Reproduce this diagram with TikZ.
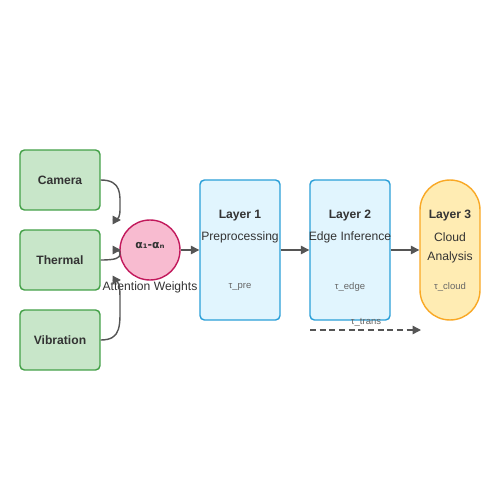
\documentclass[tikz,border=0pt]{standalone}
\usepackage{fontspec}
\setmainfont{Liberation Sans}
\newfontfamily\symfont{DejaVu Sans}
\usetikzlibrary{arrows.meta}
\definecolor{gfill}{HTML}{C8E6C9}
\definecolor{gline}{HTML}{43A047}
\definecolor{pfill}{HTML}{F8BBD0}
\definecolor{pline}{HTML}{C2185B}
\definecolor{bfill}{HTML}{E1F5FE}
\definecolor{bline}{HTML}{2A9FD8}
\definecolor{yfill}{HTML}{FFECB3}
\definecolor{yline}{HTML}{F9A825}
\definecolor{txt}{HTML}{333333}
\definecolor{sub}{HTML}{666666}
\definecolor{arr}{HTML}{555555}
\begin{document}
\begin{tikzpicture}[x=0.02cm,y=-0.02cm,
  sensor/.style={draw=gline,fill=gfill,line width=0.8pt,rounded corners=2.5pt,minimum width=1.6cm,minimum height=1.2cm,inner sep=0pt,font=\fontsize{6.9}{8}\selectfont\bfseries,text=txt},
  layerbox/.style={draw=bline,fill=bfill,line width=0.8pt,rounded corners=2.5pt,minimum width=1.6cm,minimum height=2.8cm,inner sep=0pt},
  cloudbox/.style={draw=yline,fill=yfill,line width=0.8pt,rounded corners=0.6cm,minimum width=1.2cm,minimum height=2.8cm,inner sep=0pt},
  ttl/.style={font=\fontsize{6.9}{8}\selectfont\bfseries,text=txt,inner sep=0pt},
  lbl/.style={font=\fontsize{6.9}{8}\selectfont,text=txt,inner sep=0pt},
  tau/.style={font=\fontsize{5.4}{6}\selectfont,text=sub,inner sep=0pt},
  conn/.style={draw=arr,line width=0.8pt,-{Triangle[length=0.17cm,width=0.17cm]}}
]
\useasboundingbox[fill=white] (0,0) rectangle (500,500);
\node[sensor] (cam) at (60,180) {\raisebox{-1.2pt}{Camera}};
\node[sensor] (the) at (60,260) {\raisebox{-1.2pt}{Thermal}};
\node[sensor] (vib) at (60,340) {\raisebox{-1.2pt}{Vibration}};
\node[circle,draw=pline,fill=pfill,line width=0.8pt,minimum size=1.2cm,inner sep=0pt] (att) at (150,250) {};
\node[font=\symfont\fontsize{6.2}{7}\selectfont\bfseries,text=txt,inner sep=0pt] (attl) at (150,246) {α₁-αₙ};
\node[lbl] (attw) at (150,287) {Attention Weights};
\node[layerbox] (l1) at (240,250) {};
\node[layerbox] (l2) at (350,250) {};
\node[cloudbox] (l3) at (450,250) {};
\node[ttl] (l1t) at (240,216) {Layer 1};
\node[lbl] (l1s) at (240,237) {Preprocessing};
\node[tau] (l1u) at (240,287) {τ\_pre};
\node[ttl] (l2t) at (350,216) {Layer 2};
\node[lbl] (l2s) at (350,237) {Edge Inference};
\node[tau] (l2u) at (350,287) {τ\_edge};
\node[ttl] (l3t) at (450,216) {Layer 3};
\node[lbl] (l3s) at (450,237) {Cloud};
\node[lbl] (l3a) at (450,257) {Analysis};
\node[tau] (l3u) at (450,287) {τ\_cloud};
\coordinate (c1) at (121,220);
\coordinate (c2) at (121,250);
\coordinate (c3) at (121,280);
\draw[conn] (cam.east) .. controls (122,180) and (120,195) .. (120,208) .. controls (120,217) and (119,220) .. (c1);
\draw[conn] (the.east) .. controls (116,260) and (120,258) .. (120,254) .. controls (120,251) and (119,250) .. (c2);
\draw[conn] (vib.east) .. controls (122,340) and (120,325) .. (120,300) .. controls (120,284) and (119,280) .. (c3);
\draw[conn] (att.east) -- (l1.west);
\draw[conn] (l1.east) -- (l2.west);
\draw[conn] (l2.east) -- (l3.west);
\coordinate (d1) at (310,330);
\coordinate (d2) at (421,330);
\draw[conn,dashed,dash pattern=on 3.5pt off 2pt] (d1) -- (d2);
\node[tau] (tr) at (366,322) {τ\_trans};
\end{tikzpicture}
\end{document}
